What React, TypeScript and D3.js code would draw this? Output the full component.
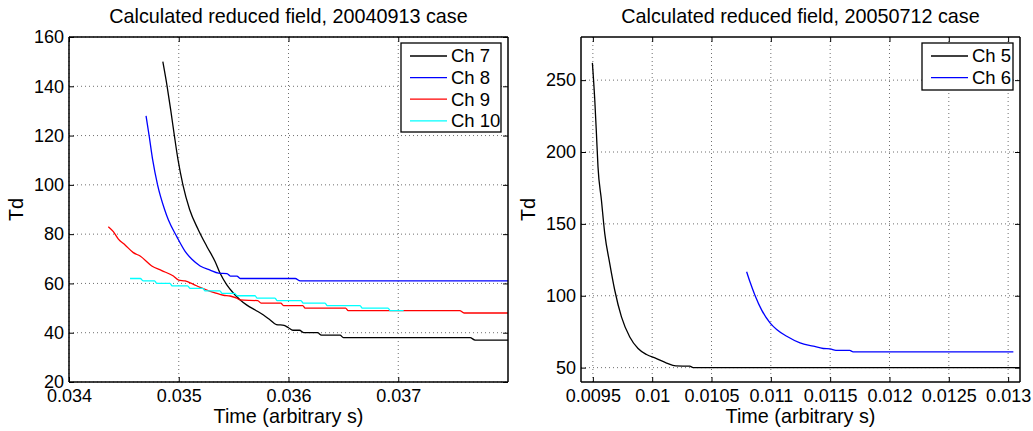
import React, { useEffect, useRef } from 'react';
import * as d3 from 'd3';

// left panel: 20040913 case
const ch7 = [
  [0.034855, 150], [0.034894, 140], [0.034928, 130], [0.03496, 120], [0.034994, 110],
  [0.035038, 100], [0.035099, 90], [0.035179, 81.7], [0.035256, 75], [0.035332, 68.8],
  [0.035377, 64.1], [0.035438, 59.4], [0.035499, 56], [0.03556, 53.3], [0.035621, 51.2],
  [0.035697, 49.2], [0.035772, 47.2], [0.035833, 45.2], [0.03589, 43.3], [0.03596, 43],
  [0.036, 42], [0.03604, 41], [0.0361, 41], [0.03614, 40], [0.036265, 40], [0.0363, 39],
  [0.03647, 39], [0.0365, 38], [0.037655, 38], [0.0377, 37], [0.038, 37],
];
const ch8 = [
  [0.034702, 128], [0.03473, 120], [0.034763, 110], [0.034807, 100], [0.034871, 90],
  [0.034906, 85.7], [0.034982, 79], [0.035058, 73], [0.03512, 69.8],
  [0.035195, 67.1], [0.035286, 65.4], [0.035362, 64.2], [0.03544, 64], [0.03547, 63],
  [0.03553, 63], [0.03556, 62], [0.036061, 62], [0.036107, 61], [0.038, 61],
];
const ch9 = [
  [0.034358, 83], [0.034404, 81], [0.03445, 78], [0.034511, 75.6], [0.034586, 72.5],
  [0.034648, 71.1], [0.034754, 67.1], [0.034845, 65.2], [0.034951, 63], [0.035, 61.3],
  [0.035058, 61], [0.03513, 59.7], [0.035195, 58.4], [0.035256, 57.3], [0.03533, 56.2],
  [0.035407, 55.2], [0.035468, 54.9], [0.035529, 54], [0.03556, 53.3], [0.03572, 53],
  [0.03575, 52], [0.03593, 52], [0.035955, 51], [0.03613, 51], [0.036152, 50],
  [0.03652, 50], [0.036544, 49], [0.03756, 49], [0.0376, 48], [0.038, 48],
];
const ch10 = [
  [0.034556, 62], [0.03465, 62], [0.034675, 61], [0.03478, 61], [0.0348, 60],
  [0.03492, 60], [0.03494, 59], [0.03508, 59], [0.035104, 58], [0.03522, 58],
  [0.03524, 57], [0.035375, 57], [0.035395, 56], [0.03551, 56], [0.035532, 55],
  [0.035695, 55], [0.035715, 54], [0.035877, 54], [0.035897, 53], [0.036114, 53],
  [0.036134, 52], [0.036333, 52], [0.036353, 51], [0.036652, 51], [0.036672, 50],
  [0.036907, 50], [0.036927, 49], [0.037049, 49],
];

// right panel: 20050712 case
const ch5 = [
  [0.009496, 262], [0.009516, 236.3], [0.00953, 213], [0.009543, 190], [0.009572, 166.6],
  [0.0096, 143.4], [0.009642, 122.5], [0.009684, 104], [0.009741, 85.3], [0.009811, 71.3],
  [0.009881, 63.3], [0.009952, 59.1], [0.010036, 56.3], [0.010121, 53.2], [0.010199, 51.2],
  [0.010317, 51], [0.010345, 50], [0.0131, 50],
];
const ch6 = [
  [0.010796, 116.7], [0.010824, 109.7], [0.010866, 100.4], [0.010923, 90], [0.010993, 81.1],
  [0.011049, 76.5], [0.011134, 71.8], [0.011246, 67.2], [0.011358, 64.9], [0.011442, 63.3],
  [0.0115, 63], [0.011549, 62], [0.011665, 62], [0.011693, 61], [0.013044, 61],
];

const leftXTicks = [0.034, 0.035, 0.036, 0.037];
const leftYTicks = [20, 40, 60, 80, 100, 120, 140, 160];
const rightXTicks = [0.0095, 0.01, 0.0105, 0.011, 0.0115, 0.012, 0.0125, 0.013];
const rightYTicks = [50, 100, 150, 200, 250];

const FONT = '"Liberation Sans", Arial, Helvetica, sans-serif';

function drawPanel(svg, opts) {
  const { x0, x1, y0, y1, xDomain, yDomain, xTicks, yTicks, title, series, legend } = opts;
  const x = d3.scaleLinear().domain(xDomain).range([x0, x1]);
  const y = d3.scaleLinear().domain(yDomain).range([y1, y0]);
  const g = svg.append('g');
  const clipId = 'clip' + Math.round(x0);

  g.append('clipPath').attr('id', clipId)
    .append('rect').attr('x', x0).attr('y', y0).attr('width', x1 - x0).attr('height', y1 - y0);

  g.append('rect').attr('x', x0).attr('y', y0).attr('width', x1 - x0).attr('height', y1 - y0)
    .attr('fill', '#fff');

  // dotted grid
  const grid = g.append('g').attr('stroke', '#6f6f6f').attr('stroke-width', 1).attr('stroke-dasharray', '1,3');
  xTicks.forEach(t => {
    grid.append('line').attr('x1', x(t)).attr('x2', x(t)).attr('y1', y0).attr('y2', y1);
  });
  yTicks.forEach(t => {
    grid.append('line').attr('x1', x0).attr('x2', x1).attr('y1', y(t)).attr('y2', y(t));
  });

  const line = d3.line().x(d => x(d[0])).y(d => y(d[1])).curve(d3.curveMonotoneX);
  const lines = g.append('g').attr('clip-path', `url(#${clipId})`);
  series.forEach(s => {
    lines.append('path').attr('d', line(s.data)).attr('fill', 'none')
      .attr('stroke', s.color).attr('stroke-width', 1.3);
  });

  // axes with inward ticks
  const styleAxis = sel => {
    sel.selectAll('path').attr('stroke', '#000').attr('stroke-width', 1.5);
    sel.selectAll('line').attr('stroke', '#000');
    sel.selectAll('text').attr('font-family', FONT).attr('font-size', 18).attr('fill', '#000');
  };
  g.append('g').attr('transform', `translate(0,${y1})`)
    .call(d3.axisBottom(x).tickValues(xTicks).tickSize(-5).tickSizeOuter(0).tickPadding(7.5).tickFormat(d3.format('~g')))
    .call(styleAxis).call(a => a.select('.domain').attr('d', `M${x0},0H${x1}`));
  g.append('g').attr('transform', `translate(0,${y0})`)
    .call(d3.axisTop(x).tickValues(xTicks).tickSize(-5).tickSizeOuter(0).tickFormat(() => ''))
    .call(styleAxis).call(a => a.select('.domain').attr('d', `M${x0},0H${x1}`));
  g.append('g').attr('transform', `translate(${x0},0)`)
    .call(d3.axisLeft(y).tickValues(yTicks).tickSize(-5).tickSizeOuter(0).tickPadding(5))
    .call(styleAxis).call(a => a.select('.domain').attr('d', `M0,${y0}V${y1}`));
  g.append('g').attr('transform', `translate(${x1},0)`)
    .call(d3.axisRight(y).tickValues(yTicks).tickSize(-5).tickSizeOuter(0).tickFormat(() => ''))
    .call(styleAxis).call(a => a.select('.domain').attr('d', `M0,${y0}V${y1}`));

  const cx = (x0 + x1) / 2;
  g.append('text').attr('x', cx).attr('y', 23).attr('text-anchor', 'middle')
    .attr('font-family', FONT).attr('font-size', 19.8).text(title);
  g.append('text').attr('x', cx).attr('y', 423).attr('text-anchor', 'middle')
    .attr('font-family', FONT).attr('font-size', 19.8).text('Time (arbitrary s)');
  g.append('text').attr('transform', `translate(${x0 - 46},${(y0 + y1) / 2}) rotate(-90)`)
    .attr('text-anchor', 'middle').attr('font-family', FONT).attr('font-size', 19.8).text('Td');

  // legend
  const lg = g.append('g');
  lg.append('rect').attr('x', legend.x).attr('y', legend.y).attr('width', legend.w).attr('height', legend.h)
    .attr('fill', '#fff').attr('stroke', '#000').attr('stroke-width', 1.3);
  series.forEach((s, i) => {
    const ly = legend.y + 13 + i * 21.6;
    lg.append('line').attr('x1', legend.x + 9).attr('x2', legend.x + 46).attr('y1', ly).attr('y2', ly)
      .attr('stroke', s.color).attr('stroke-width', 1.3);
    lg.append('text').attr('x', legend.x + 50).attr('y', ly).attr('dy', '0.35em')
      .attr('font-family', FONT).attr('font-size', 18.5).text(s.name);
  });
}

export default function App() {
  const ref = useRef(null);

  useEffect(() => {
    const svg = d3.select(ref.current);
    svg.selectAll('*').remove();

    drawPanel(svg, {
      x0: 69, x1: 508, y0: 37, y1: 382,
      xDomain: [0.034, 0.038], yDomain: [20, 160],
      xTicks: leftXTicks, yTicks: leftYTicks,
      title: 'Calculated reduced field, 20040913 case',
      series: [
        { name: 'Ch 7', color: '#000', data: ch7 },
        { name: 'Ch 8', color: '#0000ff', data: ch8 },
        { name: 'Ch 9', color: '#ff0000', data: ch9 },
        { name: 'Ch 10', color: '#00ffff', data: ch10 },
      ],
      legend: { x: 401, y: 43, w: 100, h: 89 },
    });

    drawPanel(svg, {
      x0: 581, x1: 1020, y0: 37, y1: 382,
      xDomain: [0.0094, 0.0131], yDomain: [40, 280],
      xTicks: rightXTicks, yTicks: rightYTicks,
      title: 'Calculated reduced field, 20050712 case',
      series: [
        { name: 'Ch 5', color: '#000', data: ch5 },
        { name: 'Ch 6', color: '#0000ff', data: ch6 },
      ],
      legend: { x: 922, y: 43, w: 91, h: 47 },
    });
  }, []);

  return (
    <svg ref={ref} width={1033} height={431}
      style={{ position: 'absolute', left: 0, top: 0, background: '#fff' }} />
  );
}
